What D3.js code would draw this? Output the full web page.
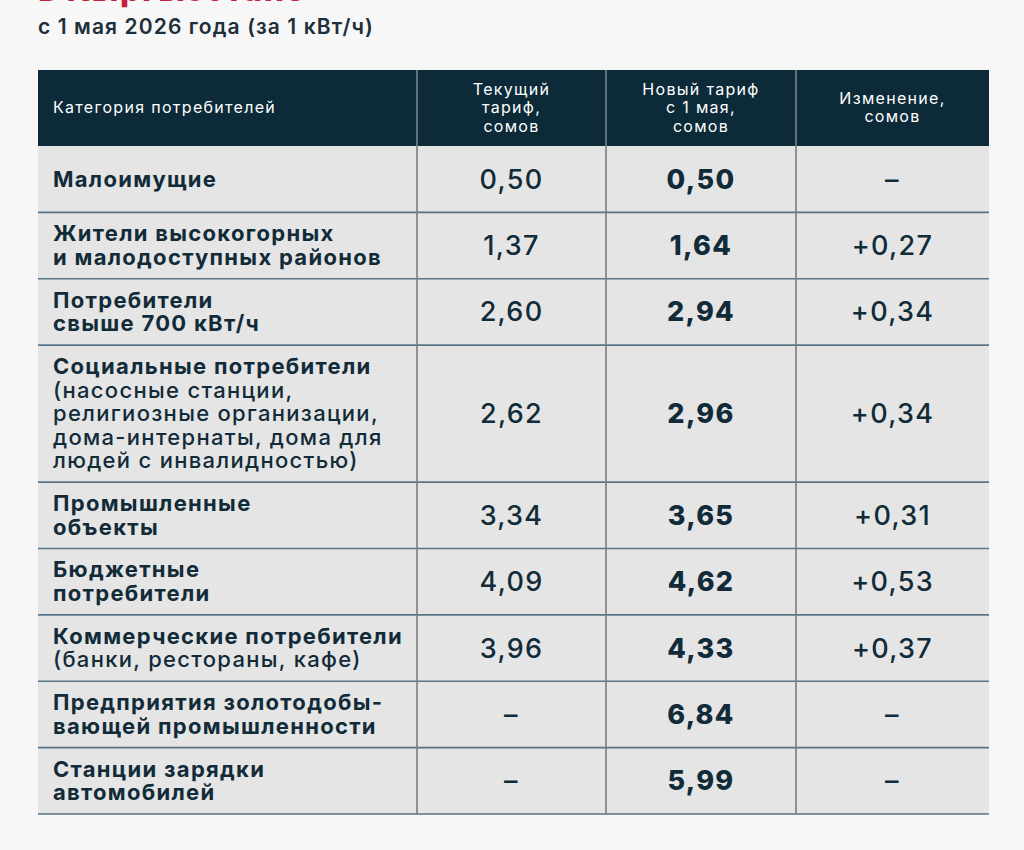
<!DOCTYPE html>
<html>
<head>
<meta charset="utf-8">
<script src="https://cdn.jsdelivr.net/npm/d3@7"></script>
<style>
  body { margin: 0; background: #f7f7f7; }
  svg { display: block; font-family: Inter, "Noto Sans", sans-serif; }
</style>
</head>
<body>
<div id="chart"></div>
<script>
'use strict';

// table data
var headers = [
    ["Категория потребителей"],
    ["Текущий", "тариф,", "сомов"],
    ["Новый тариф", "с 1 мая,", "сомов"],
    ["Изменение,", "сомов"]
];
var categoryBold = [
    ["Малоимущие"],
    ["Жители высокогорных", "и малодоступных районов"],
    ["Потребители", "свыше 700 кВт/ч"],
    ["Социальные потребители"],
    ["Промышленные", "объекты"],
    ["Бюджетные", "потребители"],
    ["Коммерческие потребители"],
    ["Предприятия золотодобы-", "вающей промышленности"],
    ["Станции зарядки", "автомобилей"]
];
var categoryNote = [
    [],
    [],
    [],
    ["(насосные станции,", "религиозные организации,", "дома-интернаты, дома для", "людей с инвалидностью)"],
    [],
    [],
    ["(банки, рестораны, кафе)"],
    [],
    []
];
var currentTariff = [0.50, 1.37, 2.60, 2.62, 3.34, 4.09, 3.96, null, null];
var newTariff     = [0.50, 1.64, 2.94, 2.96, 3.65, 4.62, 4.33, 6.84, 5.99];
var tariffChange  = [null, 0.27, 0.34, 0.34, 0.31, 0.53, 0.37, null, null];

var titleText = "в Кыргызстане";
var subtitleText = "с 1 мая 2026 года (за 1 кВт/ч)";

const W = 1024, H = 850;
const left = 38, right = 989, headTop = 70, headBottom = 146;
const lineH = 23.54, rowPad = 19.3;
const colEdges = [left, 417, 606, 796, right];

var fmt = d3.format(".2f");
function num(v, sign) {
    if (v == null) return "–";
    return (sign ? "+" : "") + fmt(v).replace(".", ",");
}

var svg = d3.select("#chart").append("svg")
    .attr("width", W).attr("height", H);

svg.append("rect").attr("width", W).attr("height", H).attr("fill", "#f7f7f7");

// title (clipped by top edge) + subtitle
svg.append("text")
    .attr("x", left).attr("y", 1)
    .attr("fill", "#c41e3a")
    .attr("font-size", 32).attr("font-weight", 800)
    .attr("letter-spacing", 1.5)
    .text(titleText);
svg.append("text")
    .attr("x", left).attr("y", 34)
    .attr("fill", "#1d2f3a")
    .attr("font-size", 21).attr("font-weight", 600)
    .attr("letter-spacing", 1.1)
    .text(subtitleText);

// row geometry
var rows = categoryBold.map((b, i) => ({
    bold: b, note: categoryNote[i],
    cells: [num(currentTariff[i]), num(newTariff[i]), num(tariffChange[i], true)],
    lines: b.length + categoryNote[i].length
}));
var cum = [0];
rows.forEach(r => cum.push(cum[cum.length - 1] + Math.max(2, r.lines) * lineH + rowPad));
var y = d3.scaleLinear().domain([0, cum[cum.length - 1]]).range([headBottom, headBottom + cum[cum.length - 1]]);

var x = d3.scaleOrdinal().domain(d3.range(4)).range(colEdges.slice(0, 4));
var colW = i => colEdges[i + 1] - colEdges[i];

// header
svg.append("rect")
    .attr("x", left).attr("y", headTop)
    .attr("width", right - left).attr("height", headBottom - headTop)
    .attr("fill", "#0c2a38");

var head = svg.append("g").selectAll("text")
    .data(headers)
    .join("text")
    .attr("fill", "#ffffff")
    .attr("font-size", 16)
    .attr("letter-spacing", 1.3)
    .attr("text-anchor", (d, i) => i === 0 ? "start" : "middle")
    .attr("x", (d, i) => i === 0 ? x(0) + 15 : x(i) + colW(i) / 2);
head.each(function(d) {
    var mid = (headTop + headBottom) / 2;
    var lh = 18.5;
    d3.select(this).selectAll("tspan")
        .data(d)
        .join("tspan")
        .attr("x", d3.select(this).attr("x"))
        .attr("y", (t, j) => mid + (j - (d.length - 1) / 2) * lh + 5)
        .text(t => t);
});

// body
var body = svg.append("g");
body.selectAll("rect.row")
    .data(rows)
    .join("rect")
    .attr("class", "row")
    .attr("x", left).attr("width", right - left)
    .attr("y", (d, i) => y(cum[i]))
    .attr("height", (d, i) => y(cum[i + 1]) - y(cum[i]))
    .attr("fill", "#e5e5e5");

// category text
body.selectAll("text.cat")
    .data(rows)
    .join("text")
    .attr("class", "cat")
    .attr("fill", "#112b39")
    .attr("font-size", 22)
    .attr("letter-spacing", 1.3)
    .each(function(d, i) {
        var mid = (y(cum[i]) + y(cum[i + 1])) / 2;
        var all = d.bold.map(t => ({t: t, b: true})).concat(d.note.map(t => ({t: t, b: false})));
        d3.select(this).selectAll("tspan")
            .data(all)
            .join("tspan")
            .attr("x", left + 15)
            .attr("y", (t, j) => mid + (j - (all.length - 1) / 2) * lineH + 7.5)
            .attr("font-weight", t => t.b ? 700 : 500)
            .text(t => t.t);
    });

// value cells
[0, 1, 2].forEach(c => {
    body.selectAll("text.v" + c)
        .data(rows)
        .join("text")
        .attr("class", "v" + c)
        .attr("text-anchor", "middle")
        .attr("fill", "#112b39")
        .attr("font-size", 27)
        .attr("letter-spacing", 1.3)
        .attr("font-weight", c === 1 ? 800 : 500)
        .attr("x", x(c + 1) + colW(c + 1) / 2)
        .attr("y", (d, i) => (y(cum[i]) + y(cum[i + 1])) / 2 + 9.5)
        .text(d => d.cells[c]);
});

// grid lines
body.selectAll("line.h")
    .data(cum.slice(1))
    .join("line")
    .attr("class", "h")
    .attr("x1", left).attr("x2", right)
    .attr("y1", d => y(d)).attr("y2", d => y(d))
    .attr("stroke", "#587487").attr("stroke-width", 1.6);

svg.append("g").selectAll("line")
    .data(colEdges.slice(1, 4))
    .join("line")
    .attr("x1", d => d).attr("x2", d => d)
    .attr("y1", headTop).attr("y2", headBottom)
    .attr("stroke", "#7d8a93").attr("stroke-width", 1.5);
body.selectAll("line.v")
    .data(colEdges.slice(1, 4))
    .join("line")
    .attr("class", "v")
    .attr("x1", d => d).attr("x2", d => d)
    .attr("y1", headBottom).attr("y2", y(cum[cum.length - 1]))
    .attr("stroke", "#7c7c7c").attr("stroke-width", 1.6);
</script>
</body>
</html>
